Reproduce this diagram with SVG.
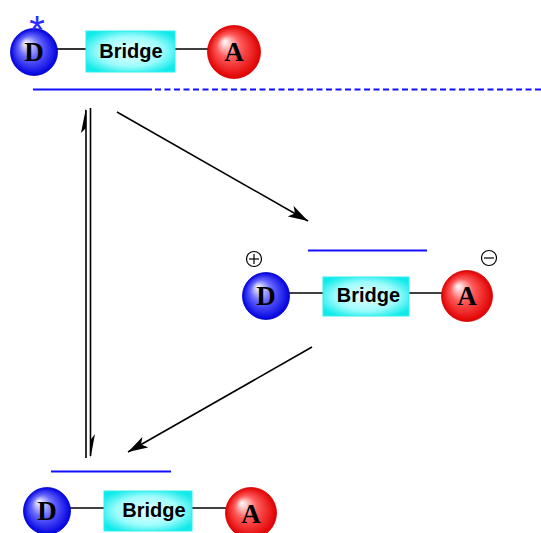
<svg xmlns="http://www.w3.org/2000/svg" width="541" height="533" viewBox="0 0 541 533">
<defs>
<radialGradient id="gD" cx="0.5" cy="0.5" r="0.5" fx="0.32" fy="0.3">
<stop offset="0" stop-color="#ffffff"/>
<stop offset="0.45" stop-color="#6a6aff"/>
<stop offset="1" stop-color="#0000e0"/>
</radialGradient>
<radialGradient id="gA" cx="0.5" cy="0.5" r="0.5" fx="0.32" fy="0.3">
<stop offset="0" stop-color="#ffffff"/>
<stop offset="0.45" stop-color="#ff5a5a"/>
<stop offset="1" stop-color="#e00000"/>
</radialGradient>
<radialGradient id="gB" cx="0.5" cy="0.5" r="0.6">
<stop offset="0" stop-color="#e8ffff"/>
<stop offset="0.6" stop-color="#9ffcfc"/>
<stop offset="1" stop-color="#10eaea"/>
</radialGradient>
<marker id="ah" viewBox="0 0 20 12" refX="20" refY="6" markerWidth="20" markerHeight="12" markerUnits="userSpaceOnUse" orient="auto">
<path d="M0,0 L20,6 L0,12 L5,6 Z" fill="#000"/>
</marker>
</defs>
<style>
.bond{stroke:#000;stroke-width:1.6;fill:none}
.lvl{stroke:#1010ff;stroke-width:2.2;fill:none}
.don{fill:url(#gD);stroke:#0000c8;stroke-width:0.8}
.acc{fill:url(#gA);stroke:#d00000;stroke-width:0.8}
.br{fill:url(#gB);stroke:#30f0f0;stroke-width:1}
.lab{font-family:"Liberation Serif",serif;font-weight:bold;font-size:27px;fill:#000;text-anchor:middle}
.btx{font-family:"Liberation Sans",Arial,sans-serif;font-weight:bold;font-size:20px;fill:#000;text-anchor:middle}
.arr{stroke:#000;stroke-width:1.6;fill:none}
.chg{stroke:#000;stroke-width:1.2;fill:none}
</style>

<g id="levels">
<line class="lvl" x1="33" y1="89.5" x2="152" y2="89.5"/>
<line class="lvl" x1="155" y1="89.5" x2="541" y2="89.5" stroke-dasharray="6,3.5"/>
<line class="lvl" x1="308" y1="250.5" x2="427" y2="250.5"/>
<line class="lvl" x1="51" y1="471.5" x2="171" y2="471.5"/>
</g>

<g id="top-excited">
<line class="bond" x1="55" y1="49" x2="86" y2="49"/>
<line class="bond" x1="175" y1="49" x2="210" y2="49"/>
<circle class="don" cx="34" cy="52" r="23.5"/>
<text class="lab" x="34" y="61">D</text>
<text x="37" y="44" font-family="'Liberation Sans',Arial,sans-serif" font-size="40" fill="#2a2aff" text-anchor="middle">*</text>
<rect class="br" x="86" y="31" width="89" height="41"/>
<text class="btx" x="131" y="58">Bridge</text>
<circle class="acc" cx="234" cy="52" r="26.5"/>
<text class="lab" x="234" y="61">A</text>
</g>

<g id="middle-cs">
<line class="bond" x1="288" y1="293" x2="323" y2="293"/>
<line class="bond" x1="409" y1="293" x2="443" y2="293"/>
<circle class="don" cx="266" cy="296" r="23.5"/>
<text class="lab" x="266" y="305">D</text>
<rect class="br" x="323" y="277" width="86" height="39"/>
<text class="btx" x="368.5" y="302">Bridge</text>
<circle class="acc" cx="467" cy="296" r="25.5"/>
<text class="lab" x="467" y="305">A</text>
<g id="plus">
<circle class="chg" cx="254" cy="259" r="7.5"/>
<line class="chg" x1="249" y1="259" x2="259" y2="259"/>
<line class="chg" x1="254" y1="254" x2="254" y2="264"/>
</g>
<g id="minus">
<circle class="chg" cx="489" cy="258" r="7.5"/>
<line class="chg" x1="484" y1="258" x2="494" y2="258"/>
</g>
</g>

<g id="bottom-ground">
<line class="bond" x1="69" y1="508" x2="104" y2="508"/>
<line class="bond" x1="192" y1="508" x2="226" y2="508"/>
<circle class="don" cx="47" cy="511" r="23.5"/>
<text class="lab" x="47" y="520">D</text>
<rect class="br" x="104" y="491" width="88" height="40"/>
<text class="btx" x="154" y="517">Bridge</text>
<circle class="acc" cx="251" cy="513" r="25.5"/>
<text class="lab" x="251" y="523">A</text>
</g>

<g id="connectors">
<line class="arr" x1="86" y1="110" x2="86" y2="458"/>
<line class="arr" x1="90.5" y1="108" x2="90.5" y2="456"/>
<polygon points="86,108 81,133 86,128" fill="#000"/>
<polygon points="90.5,458 95,434 90.5,440" fill="#000"/>
<line class="arr" x1="117" y1="112" x2="308" y2="221" marker-end="url(#ah)"/>
<line class="arr" x1="312" y1="347" x2="128" y2="452" marker-end="url(#ah)"/>
</g>
</svg>
